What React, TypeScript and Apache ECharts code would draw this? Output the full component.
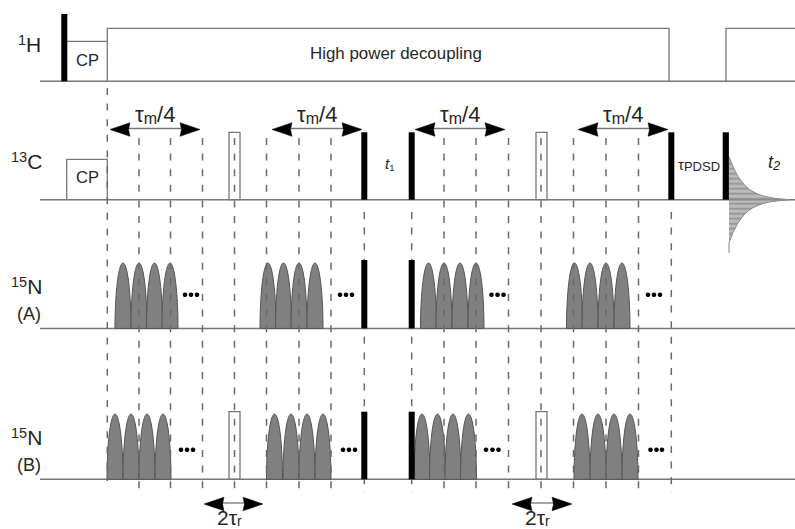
import React, { useEffect, useRef } from "react";
import * as echarts from "echarts";

const WIDTH = 795;
const HEIGHT = 529;

// Channel baselines: [x start, x end, y]
const baselines = [
  [40, 795, 81.3],
  [40, 795, 199.7],
  [40, 795, 328.4],
  [40, 795, 479.3],
];
// 1H power traces (open outlines)
const traces = [
  [[67, 41.3], [107.3, 41.3]],
  [[107.3, 81.3], [107.3, 28.3], [669, 28.3], [669, 81.3]],
  [[726, 81.3], [726, 28.3], [795, 28.3]],
  [[66.7, 199.7], [66.7, 159.3], [107.3, 159.3], [107.3, 199.7]],
];
// Pulses: [x0, x1, top, base]
const blackPulses = [
  [61.3, 67.3, 14, 81.3],
  [361.3, 367.3, 132.3, 199.7],
  [408.7, 414.7, 132.3, 199.7],
  [668.3, 674.3, 132.3, 199.7],
  [722.7, 728.9, 132.3, 199.7],
  [361.3, 367.3, 260, 328.4],
  [408.7, 414.7, 260, 328.4],
  [361.3, 367.3, 411.7, 479.3],
  [408.7, 414.7, 411.7, 479.3],
];
const openPulses = [
  [229, 240, 132.3, 199.7],
  [536, 547, 132.3, 199.7],
  [229, 240, 411.7, 479.3],
  [536, 547, 411.7, 479.3],
];
// Shaped 15N pulses: centres of each train
const shapedA = [123, 139, 154.5, 170, 268, 283.5, 299, 315, 428.5, 444, 460, 476, 574.5, 590, 606, 622];
const shapedB = [115, 131, 147, 163, 274.5, 291, 307, 323, 422, 437.5, 453, 468.5, 582, 598, 614, 630];
// Dashed guides: [x, y start, y end]
const guides = [
  [107.3, 88, 481],
  [139, 138, 493], [170.5, 138, 493], [202.5, 138, 493], [234.5, 138, 493],
  [266.5, 138, 493], [299, 138, 493], [331, 138, 493], [364.3, 212, 493],
  [411.7, 212, 493], [444, 138, 493], [476, 138, 493], [508.5, 138, 493],
  [541, 138, 493], [573.5, 138, 493], [606, 138, 493], [638.5, 138, 493],
  [671.3, 212, 493],
];
// Dots: [x, y]
const dots = [
  [185, 294.8], [191, 294.8], [197, 294.8], [340, 294.8], [346, 294.8], [352, 294.8],
  [491.5, 294.8], [497.5, 294.8], [503.5, 294.8], [648, 294.8], [654, 294.8], [660, 294.8],
  [181, 449.8], [187, 449.8], [193, 449.8], [343, 449.8], [349, 449.8], [355, 449.8],
  [486, 449.8], [492.5, 449.8], [498.5, 449.8], [650.5, 449.8], [656.5, 449.8], [662, 449.8],
];
// Double arrows: [left tip, right tip, y]
const arrows = [
  [110, 200, 129.5], [272, 362, 129.5], [415, 505, 129.5], [578, 668, 129.5],
  [204, 263, 504], [512, 572, 504],
];
// FID envelope: [x, half amplitude]
const fidEnvelope = [
  [729, 43], [731, 38], [733, 33], [737, 25], [741, 19], [745, 14], [749, 10.5], [753, 8],
  [757, 6], [761, 4.5], [765, 3.2], [770, 2.2], [775, 1.4], [782, 0.7], [790, 0],
];
const FID_CENTRE = 199.7;
const FID_TAIL = 253;

const TEXT = "#262626";
const LINE = "#777777";
const FONT = '"Liberation Sans", Arial, sans-serif';

function custom(data: any[], renderItem: any, z: number) {
  return {
    type: "custom",
    coordinateSystem: "cartesian2d",
    data,
    clip: false,
    silent: true,
    z,
    renderItem,
  };
}

function rectItem(api: any, fill: string, stroke: string | null) {
  const a = api.coord([api.value(0), api.value(2)]);
  const b = api.coord([api.value(1), api.value(3)]);
  return {
    type: "rect",
    shape: { x: a[0], y: a[1], width: b[0] - a[0], height: b[1] - a[1] },
    style: stroke ? { fill, stroke, lineWidth: 1.3 } : { fill },
  };
}

function shapedItem(api: any, base: number, top: number) {
  const cx = api.value(0);
  const n = 28;
  const half = 8;
  const pts: number[][] = [];
  for (let i = 0; i <= n; i++) {
    const t = (Math.PI * i) / n;
    pts.push(api.coord([cx - half * Math.cos(t), base - (base - top) * Math.sin(t)]));
  }
  return {
    type: "polygon",
    shape: { points: pts },
    style: { fill: "#808080", stroke: "#555555", lineWidth: 1 },
  };
}

function arrowItem(api: any) {
  const x0 = api.value(0);
  const x1 = api.value(1);
  const y = api.value(2);
  const L = 20;
  const H = 6.8;
  const head = (tip: number, dir: number) => ({
    type: "polygon",
    shape: {
      points: [
        api.coord([tip, y]),
        api.coord([tip + dir * L, y - H]),
        api.coord([tip + dir * (L - 1.5), y]),
        api.coord([tip + dir * L, y + H]),
      ],
    },
    style: { fill: "#000", stroke: "#000", lineWidth: 0.5 },
  });
  const a = api.coord([x0 + L - 2, y - 1]);
  const b = api.coord([x1 - L + 2, y - 1]);
  return {
    type: "group",
    children: [
      { type: "line", shape: { x1: a[0], y1: a[1], x2: b[0], y2: b[1] }, style: { stroke: LINE, lineWidth: 1.3 } },
      head(x0, 1),
      head(x1, -1),
    ],
  };
}

function fidItem(api: any) {
  const children: any[] = [];
  const edgeAt = (amp: number) => {
    for (let i = 1; i < fidEnvelope.length; i++) {
      const [xa, aa] = fidEnvelope[i - 1];
      const [xb, ab] = fidEnvelope[i];
      if (amp >= ab) return xa + ((aa - amp) / (aa - ab)) * (xb - xa);
    }
    return fidEnvelope[fidEnvelope.length - 1][0];
  };
  const x0 = fidEnvelope[0][0];
  for (let d = 0; d <= fidEnvelope[0][1]; d += 1.25) {
    const xe = edgeAt(d);
    for (const s of d === 0 ? [1] : [1, -1]) {
      const a = api.coord([x0, FID_CENTRE + s * d]);
      const b = api.coord([xe, FID_CENTRE + s * d]);
      children.push({
        type: "line",
        shape: { x1: a[0], y1: a[1], x2: b[0], y2: b[1] },
        style: { stroke: "#929292", lineWidth: 1 },
      });
    }
  }
  const edge = (s: number) => ({
    type: "polyline",
    shape: { points: fidEnvelope.map(([x, amp]) => api.coord([x, FID_CENTRE + s * amp])) },
    style: { stroke: "#8a8a8a", lineWidth: 1, fill: "none" },
  });
  children.push(edge(1), edge(-1));
  const t0 = api.coord([x0, FID_CENTRE + fidEnvelope[0][1]]);
  const t1 = api.coord([x0, FID_TAIL]);
  children.push({
    type: "line",
    shape: { x1: t0[0], y1: t0[1], x2: t1[0], y2: t1[1] },
    style: { stroke: "#999", lineWidth: 1.2 },
  });
  return { type: "group", children };
}

function label(x: number, y: number, text: string, rich: any, fontSize = 17) {
  return {
    type: "text",
    x,
    y,
    silent: true,
    z: 20,
    style: {
      text,
      rich,
      fill: TEXT,
      font: `${fontSize}px ${FONT}`,
      textVerticalAlign: "middle",
    },
  };
}

const nucleusRich = {
  s: { fontFamily: FONT, fontSize: 14.5, fill: TEXT, verticalAlign: "top", lineHeight: 14 },
  b: { fontFamily: FONT, fontSize: 21, fill: TEXT, lineHeight: 24 },
};
const tauRich = {
  a: { fontFamily: FONT, fontSize: 22, fill: TEXT, lineHeight: 24 },
  m: { fontFamily: FONT, fontSize: 16, fill: TEXT, verticalAlign: "bottom", lineHeight: 15 },
};
const tau2Rich = {
  a: { fontFamily: FONT, fontSize: 21, fill: TEXT, lineHeight: 21 },
  m: { fontFamily: FONT, fontSize: 14, fill: TEXT, verticalAlign: "bottom", lineHeight: 13 },
};
const pdsdRich = {
  a: { fontFamily: FONT, fontSize: 15, fill: TEXT, lineHeight: 18 },
  m: { fontFamily: FONT, fontSize: 13, fill: TEXT, verticalAlign: "bottom", lineHeight: 13 },
};
const t1Rich = {
  a: { fontFamily: FONT, fontStyle: "italic", fontSize: 15, fill: TEXT, lineHeight: 18 },
  m: { fontFamily: FONT, fontSize: 9.5, fill: TEXT, verticalAlign: "bottom", lineHeight: 10 },
};
const t2Rich = {
  a: { fontFamily: FONT, fontStyle: "italic", fontSize: 18, fill: TEXT, lineHeight: 20 },
  m: { fontFamily: FONT, fontStyle: "italic", fontSize: 13, fill: TEXT, verticalAlign: "bottom", lineHeight: 12 },
};

const texts = [
  label(18, 44, "{s|1}{b|H}", nucleusRich),
  label(11, 161.5, "{s|13}{b|C}", nucleusRich),
  label(11, 286, "{s|15}{b|N}", nucleusRich),
  label(11, 437, "{s|15}{b|N}", nucleusRich),
  label(17, 314, "(A)", undefined, 18),
  label(17, 465, "(B)", undefined, 18),
  label(76, 60, "CP", undefined, 16.5),
  label(76, 177, "CP", undefined, 16.5),
  label(310, 53, "High power decoupling", undefined, 16.9),
  label(135, 114, "{a|τ}{m|m}{a|/4}", tauRich),
  label(297, 114, "{a|τ}{m|m}{a|/4}", tauRich),
  label(440, 114, "{a|τ}{m|m}{a|/4}", tauRich),
  label(603, 114, "{a|τ}{m|m}{a|/4}", tauRich),
  label(385, 163, "{a|t}{m|1}", t1Rich),
  label(768, 162, "{a|t}{m|2}", t2Rich),
  label(678, 164, "{a|τ}{m|PDSD}", pdsdRich),
  label(217, 517.5, "{a|2τ}{m|r}", tau2Rich),
  label(525, 517.5, "{a|2τ}{m|r}", tau2Rich),
];

export default function App() {
  const ref = useRef<HTMLDivElement>(null);
  useEffect(() => {
    const chart = echarts.init(ref.current!, undefined, { renderer: "svg", width: WIDTH, height: HEIGHT });
    chart.setOption({
      animation: false,
      backgroundColor: "#ffffff",
      grid: { left: 0, top: 0, right: 0, bottom: 0 },
      xAxis: { type: "value", min: 0, max: WIDTH, show: false },
      yAxis: { type: "value", min: 0, max: HEIGHT, inverse: true, show: false },
      graphic: { elements: texts },
      series: [
        custom(baselines, (_: any, api: any) => {
          const a = api.coord([api.value(0), api.value(2)]);
          const b = api.coord([api.value(1), api.value(2)]);
          return { type: "line", shape: { x1: a[0], y1: a[1], x2: b[0], y2: b[1] }, style: { stroke: LINE, lineWidth: 1.5 } };
        }, 1),
        custom(traces.map((_, i) => [i]), (_: any, api: any) => ({
          type: "polyline",
          shape: { points: traces[api.value(0)].map((p) => api.coord(p)) },
          style: { stroke: LINE, lineWidth: 1.3, fill: "none" },
        }), 2),
        custom(openPulses, (_: any, api: any) => rectItem(api, "none", LINE), 2),
        custom(shapedA.map((c) => [c]), (_: any, api: any) => shapedItem(api, 328.4, 263), 3),
        custom(shapedB.map((c) => [c]), (_: any, api: any) => shapedItem(api, 479.3, 414), 3),
        custom(guides, (_: any, api: any) => {
          const a = api.coord([api.value(0), api.value(1)]);
          const b = api.coord([api.value(0), api.value(2)]);
          return {
            type: "line",
            shape: { x1: a[0], y1: a[1], x2: b[0], y2: b[1] },
            style: { stroke: "#6a6a6a", lineWidth: 1.5, lineDash: [7, 8.6] },
          };
        }, 4),
        custom(blackPulses, (_: any, api: any) => rectItem(api, "#000", null), 5),
        custom(dots, (_: any, api: any) => {
          const c = api.coord([api.value(0), api.value(1)]);
          return { type: "circle", shape: { cx: c[0], cy: c[1], r: 2.3 }, style: { fill: "#000" } };
        }, 6),
        custom(arrows, (_: any, api: any) => arrowItem(api), 6),
        custom([[0]], (_: any, api: any) => fidItem(api), 4),
      ],
    });
    return () => chart.dispose();
  }, []);
  return <div ref={ref} style={{ position: "absolute", left: 0, top: 0, width: WIDTH, height: HEIGHT }} />;
}
